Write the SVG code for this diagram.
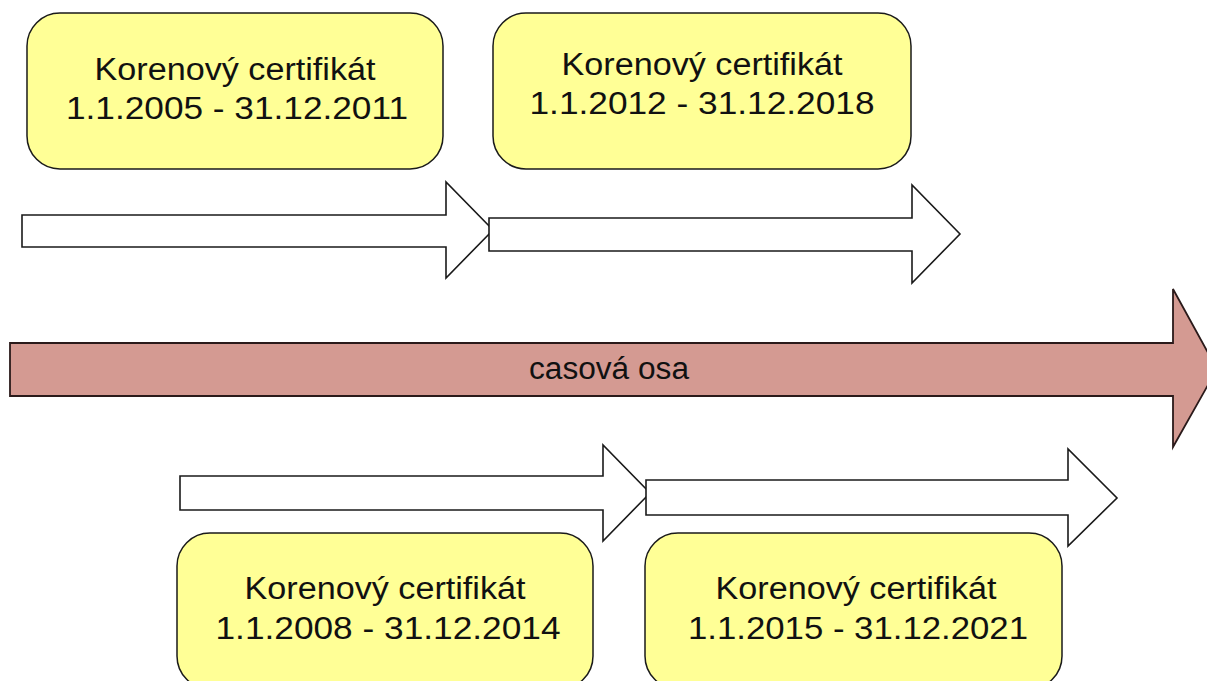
<svg xmlns="http://www.w3.org/2000/svg" width="1207" height="681" viewBox="0 0 1207 681">
  <style>
    .cert rect { fill: #FFFF96; stroke: #1a1a1a; stroke-width: 1.5; }
    .cert text { font-family: "Liberation Sans", Arial, sans-serif; font-size: 31px; fill: #111; text-anchor: middle; }
    .period { fill: #FFFFFF; stroke: #1a1a1a; stroke-width: 1.6; stroke-linejoin: miter; }
    .axis { fill: #D49A92; stroke: #2a1a1a; stroke-width: 1.8; }
    .axis-label { font-family: "Liberation Sans", Arial, sans-serif; font-size: 31px; fill: #111; text-anchor: middle; }
  </style>
  <rect width="1207" height="681" fill="#FFFFFF"/>

  <!-- validity periods and the time axis -->
  <g id="connectors">
    <g id="axis">
      <polygon class="axis" points="10,343 1173,343 1173,289 1217,369 1173,447 1173,396 10,396"/>
      <text class="axis-label" x="609" y="379" textLength="160" lengthAdjust="spacingAndGlyphs">casová osa</text>
    </g>
    <polygon id="period-2005" class="period" points="22,215 446,215 446,182 493,230 446,278 446,247 22,247"/>
    <polygon id="period-2012" class="period" points="489,218 912,218 912,185 960,234 912,283 912,251 489,251"/>
    <polygon id="period-2008" class="period" points="180,476 603,476 603,445 650,493 603,541 603,510 180,510"/>
    <polygon id="period-2015" class="period" points="646,480 1068,480 1068,449 1117,498 1068,546 1068,515 646,515"/>
  </g>

  <!-- root certificates -->
  <g id="cert-2005" class="cert">
    <rect x="27" y="13" width="416" height="156" rx="33" ry="33"/>
    <text x="235" y="80" textLength="281" lengthAdjust="spacingAndGlyphs">Korenový certifikát</text>
    <text x="237" y="119" textLength="342" lengthAdjust="spacingAndGlyphs">1.1.2005 - 31.12.2011</text>
  </g>
  <g id="cert-2012" class="cert">
    <rect x="493" y="13" width="418" height="156" rx="33" ry="33"/>
    <text x="702" y="75" textLength="281" lengthAdjust="spacingAndGlyphs">Korenový certifikát</text>
    <text x="702" y="114" textLength="345" lengthAdjust="spacingAndGlyphs">1.1.2012 - 31.12.2018</text>
  </g>
  <g id="cert-2008" class="cert">
    <rect x="177" y="533" width="416" height="156" rx="33" ry="33"/>
    <text x="385" y="599" textLength="281" lengthAdjust="spacingAndGlyphs">Korenový certifikát</text>
    <text x="388" y="639" textLength="345" lengthAdjust="spacingAndGlyphs">1.1.2008 - 31.12.2014</text>
  </g>
  <g id="cert-2015" class="cert">
    <rect x="645" y="533" width="417" height="156" rx="33" ry="33"/>
    <text x="856" y="599" textLength="281" lengthAdjust="spacingAndGlyphs">Korenový certifikát</text>
    <text x="858" y="639" textLength="340" lengthAdjust="spacingAndGlyphs">1.1.2015 - 31.12.2021</text>
  </g>
</svg>
